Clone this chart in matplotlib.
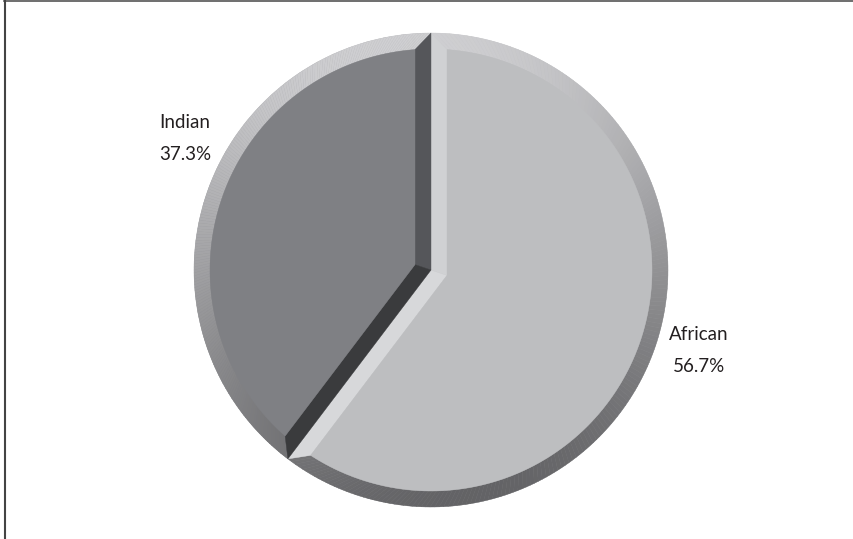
import numpy as np
import matplotlib
matplotlib.use("Agg")
import matplotlib.pyplot as plt
from matplotlib.patches import Polygon
from matplotlib.collections import PolyCollection
from matplotlib.lines import Line2D

# ---------------- data ----------------
groups = ["African", "Indian"]
shares = [56.7, 37.3]          # percent of population
face_colors = ["#bdbec0", "#7f8084"]
# bevel colours for the two straight edges of each slice (theta1 side, theta2 side)
edge_colors = [["#d7d8da", "#d0d1d3"],
               ["#55565a", "#3a3b3d"]]
# --------------------------------------

W, H = 854, 539
cx, cy, R = 431, 269, 237
bevel = 16

fig = plt.figure(figsize=(W / 100, H / 100), dpi=100)
ax = fig.add_axes([0, 0, 1, 1])

wedges, _ = ax.pie(shares, startangle=90, counterclock=False,
                   center=(cx, cy), radius=R, colors=face_colors,
                   wedgeprops=dict(linewidth=0))


def pt(r, ang):
    a = np.deg2rad(ang)
    return (cx + r * np.cos(a), cy + r * np.sin(a))


def rim_shade(ang):
    a = np.deg2rad(ang)
    g = 0.60 + 0.21 * np.sin(a) - 0.03 * np.cos(a)
    return (g, g, min(g + 0.01, 1))


delta = np.rad2deg(np.arcsin(bevel / (R - bevel)))

for i, w in enumerate(wedges):
    t1, t2 = w.theta1, w.theta2
    half = np.deg2rad((t2 - t1) / 2)
    mid = (t1 + t2) / 2
    apex = pt(bevel / np.sin(half), mid)

    # rim: thin quads around the outer arc, shaded by angle
    n = 200
    outer = np.linspace(t1, t2, n + 1)
    inner = np.linspace(t1 + delta, t2 - delta, n + 1)
    quads, cols = [], []
    for k in range(n):
        quads.append([pt(R, outer[k]), pt(R, outer[k + 1]),
                      pt(R - bevel, inner[k + 1]), pt(R - bevel, inner[k])])
        cols.append(rim_shade((outer[k] + outer[k + 1]) / 2))
    ax.add_collection(PolyCollection(quads, facecolors=cols,
                                     edgecolors=cols, linewidths=0.3))

    # straight-edge bevels
    ax.add_patch(Polygon([(cx, cy), pt(R, t1), pt(R - bevel, t1 + delta), apex],
                         closed=True, fc=edge_colors[i][0], ec=edge_colors[i][0], lw=0.3))
    ax.add_patch(Polygon([(cx, cy), pt(R, t2), pt(R - bevel, t2 - delta), apex],
                         closed=True, fc=edge_colors[i][1], ec=edge_colors[i][1], lw=0.3))

    # flat top face
    arc = [pt(R - bevel, a) for a in np.linspace(t1 + delta, t2 - delta, 300)]
    ax.add_patch(Polygon([apex] + arc, closed=True, fc=face_colors[i],
                         ec=face_colors[i], lw=0.3))

ax.set_xlim(0, W)
ax.set_ylim(0, H)
ax.set_aspect("equal")
ax.set_axis_off()

font = dict(family=["Lato", "DejaVu Sans"], weight="normal", fontsize=13.5,
            color="#231f20")
ax.text(159, H - 122, groups[1], ha="left", va="center", **font)
ax.text(159, H - 155, f"{shares[1]:.1f}%", ha="left", va="center", **font)
ax.text(699, H - 335, groups[0], ha="center", va="center", **font)
ax.text(699, H - 367, f"{shares[0]:.1f}%", ha="center", va="center", **font)

# frame lines along the top and left edge
fig.add_artist(Line2D([4 / W, 1], [1 - 0.8 / H, 1 - 0.8 / H],
                      transform=fig.transFigure, color="#555555", lw=1.2))
fig.add_artist(Line2D([5 / W, 5 / W], [0, 1], transform=fig.transFigure,
                      color="#444444", lw=1.5))

fig.savefig("out.png", dpi=100)
